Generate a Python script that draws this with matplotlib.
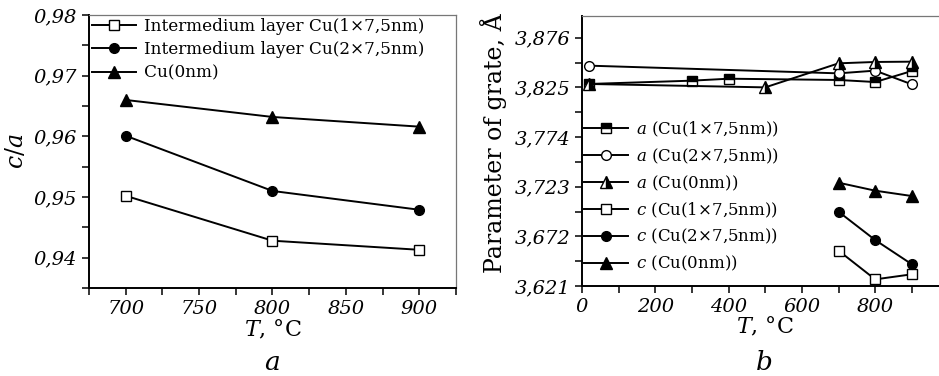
import matplotlib
matplotlib.use('Agg')
from matplotlib import pyplot as plt
from matplotlib.ticker import MultipleLocator, FixedLocator, FuncFormatter

plt.rcParams['font.family'] = ['DejaVu Serif']
plt.rcParams['mathtext.fontset'] = 'dejavuserif'

# panel a: c/a ratio
temps_a = [700, 800, 900]
ca_cu1 = [0.9502, 0.9428, 0.9413]
ca_cu2 = [0.9601, 0.9510, 0.9479]
ca_cu0 = [0.9660, 0.9632, 0.9616]
labels_a = ['Intermedium layer Cu(1×7,5nm)', 'Intermedium layer Cu(2×7,5nm)', 'Cu(0nm)']

# panel b: lattice parameters
t_a_cu1 = [20, 300, 400, 700, 800, 900]
a_cu1 = [3.8285, 3.8319, 3.8339, 3.8326, 3.8305, 3.8418]
t_a_cu2 = [20, 700, 800, 900]
a_cu2 = [3.8473, 3.8394, 3.8422, 3.8281]
t_a_cu0 = [20, 500, 700, 800, 900]
a_cu0 = [3.8285, 3.8250, 3.8497, 3.8511, 3.8514]
t_c = [700, 800, 900]
c_cu1 = [3.6573, 3.6278, 3.6330]
c_cu2 = [3.6973, 3.6682, 3.6433]
c_cu0 = [3.7271, 3.7189, 3.7134]
labels_b = ['$a$ (Cu(1×7,5nm))', '$a$ (Cu(2×7,5nm))', '$a$ (Cu(0nm))',
            '$c$ (Cu(1×7,5nm))', '$c$ (Cu(2×7,5nm))', '$c$ (Cu(0nm))']
yticks_b = [3.621, 3.672, 3.723, 3.774, 3.825, 3.876]
xticks_b = [0, 200, 400, 600, 800]


def comma(v, pos, nd):
    return f'{v:.{nd}f}'.replace('.', ',')


def style_axes(ax):
    for s in ['left', 'bottom']:
        ax.spines[s].set_linewidth(1.4)
    for s in ['top', 'right']:
        ax.spines[s].set_linewidth(0.9)
        ax.spines[s].set_color('#777777')
    ax.tick_params(which='both', direction='out', length=5, width=1.1,
                   top=False, right=False)
    for lab in ax.get_xticklabels() + ax.get_yticklabels():
        lab.set_fontstyle('italic')
        lab.set_fontsize(14)


fig = plt.figure(figsize=(9.39, 3.76), dpi=100)
lw = 1.4
ms = 7

ax1 = fig.add_axes([0.0948, 0.234, 0.3908, 0.726])
ax1.plot(temps_a, ca_cu1, '-s', color='black', lw=lw, ms=6.5, mfc='white', mec='black', label=labels_a[0])
ax1.plot(temps_a, ca_cu2, '-o', color='black', lw=lw, ms=ms, label=labels_a[1])
ax1.plot(temps_a, ca_cu0, '-^', color='black', lw=lw, ms=ms + 1, label=labels_a[2])
ax1.set_xlim(675, 925)
ax1.set_ylim(0.935, 0.98)
ax1.xaxis.set_major_locator(MultipleLocator(50))
ax1.xaxis.set_minor_locator(MultipleLocator(25))
ax1.yaxis.set_major_locator(MultipleLocator(0.01))
ax1.yaxis.set_minor_locator(MultipleLocator(0.005))
ax1.yaxis.set_major_formatter(FuncFormatter(lambda v, p: comma(v, p, 2)))
style_axes(ax1)
ax1.set_ylabel('$c/a$', fontsize=17, labelpad=4)
ax1.set_xlabel('$T$, °C', fontsize=16, labelpad=0)
ax1.legend(loc='upper left', bbox_to_anchor=(0.0, 1.0), frameon=False, fontsize=12.2,
           handlelength=2.6, handletextpad=0.5, borderpad=0.15, borderaxespad=0,
           labelspacing=0.38)
fig.text(0.29, 0.003, '$a$', fontsize=19, ha='center', va='bottom')

ax2 = fig.add_axes([0.6198, 0.2394, 0.3903, 0.7188])
ax2.plot(t_a_cu1, a_cu1, '-s', color='black', lw=lw, ms=6.5, fillstyle='top',
         mfc='black', mfcalt='white', mec='black', label=labels_b[0])
ax2.plot(t_a_cu2, a_cu2, '-o', color='black', lw=lw, ms=ms, mfc='white', mec='black', label=labels_b[1])
ax2.plot(t_a_cu0, a_cu0, '-^', color='black', lw=lw, ms=ms + 1, fillstyle='right',
         mfc='black', mfcalt='white', mec='black', label=labels_b[2])
ax2.plot(t_c, c_cu1, '-s', color='black', lw=lw, ms=6.5, mfc='white', mec='black', label=labels_b[3])
ax2.plot(t_c, c_cu2, '-o', color='black', lw=lw, ms=ms, label=labels_b[4])
ax2.plot(t_c, c_cu0, '-^', color='black', lw=lw, ms=ms + 1, label=labels_b[5])
ax2.set_xlim(0, 1000)
ax2.set_ylim(3.621, 3.8986)
ax2.xaxis.set_major_locator(FixedLocator(xticks_b))
ax2.xaxis.set_minor_locator(FixedLocator([v + 100 for v in xticks_b]))
ax2.yaxis.set_major_locator(FixedLocator(yticks_b))
ax2.yaxis.set_minor_locator(FixedLocator([v + 0.0255 for v in yticks_b]))
ax2.yaxis.set_major_formatter(FuncFormatter(lambda v, p: comma(v, p, 3)))
style_axes(ax2)
ax2.set_ylabel('Parameter of grate, Å', fontsize=17)
ax2.yaxis.set_label_coords(-0.205, 0.53)
ax2.set_xlabel('$T$, °C', fontsize=16, labelpad=0)
ax2.legend(loc='upper left', bbox_to_anchor=(0.0, 0.625), frameon=False, fontsize=12,
           handlelength=2.6, handletextpad=0.5, borderpad=0.15, borderaxespad=0,
           labelspacing=0.46)
fig.text(0.813, 0.003, '$b$', fontsize=19, ha='center', va='bottom')

fig.savefig('out.png', dpi=100)
